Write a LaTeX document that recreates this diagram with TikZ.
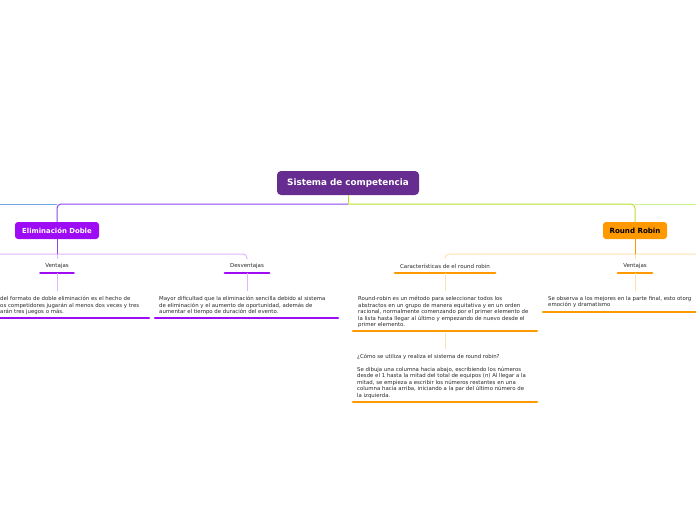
\documentclass[tikz,border=0pt]{standalone}
\usepackage{fontspec}
\setmainfont{DejaVu Sans}
\definecolor{rootc}{RGB}{102,44,144}
\definecolor{elimc}{RGB}{157,12,245}
\definecolor{purpl}{RGB}{140,70,240}
\definecolor{lpurp}{RGB}{226,180,251}
\definecolor{bluel}{RGB}{110,168,230}
\definecolor{greenl}{RGB}{184,224,44}
\definecolor{lgreen}{RGB}{200,245,140}
\definecolor{orng}{RGB}{255,153,0}
\definecolor{lorng}{RGB}{255,224,178}
\definecolor{txt}{RGB}{40,40,40}
\tikzset{
  rootbox/.style={fill=rootc, rounded corners=4pt, text=white, font=\fontsize{8.8}{10}\selectfont\bfseries, minimum width=142pt, minimum height=24pt, inner sep=0pt},
  elimbox/.style={fill=elimc, rounded corners=3pt, text=white, font=\fontsize{6.9}{8}\selectfont\bfseries, minimum width=84pt, minimum height=17pt, inner sep=0pt},
  rrbox/.style={fill=orng, rounded corners=3pt, text=black, font=\fontsize{7.1}{8}\selectfont\bfseries, minimum width=64pt, minimum height=17pt, inner sep=0pt},
  lbl/.style={text=txt, font=\fontsize{5.5}{6}\selectfont, minimum height=14pt, inner sep=0pt},
  txtblock/.style={text=txt, font=\fontsize{5.4}{6.5}\selectfont, align=left, inner sep=0pt, anchor=north west},
  pbar/.style={draw=elimc, line width=2.4pt, line cap=round},
  obar/.style={draw=orng, line width=2.4pt, line cap=round},
  conn/.style={line width=1pt},
}
\begin{document}
\begin{tikzpicture}[x=1pt,y=-1pt]
\useasboundingbox (0,0) rectangle (696,520);
\clip (0,0) rectangle (696,520);

% main nodes
\node[rootbox] (root) at (348,183) {Sistema de competencia};
\node[elimbox] (elim) at (57,230.5) {Eliminación Doble};
\node[rrbox] (rr) at (635,230.5) {Round Robin};

% top level connectors
\coordinate (j) at (348,204);
\coordinate (bl) at (0,204);
\coordinate (gr) at (696,204);
\draw[conn, lgreen] (rr.north |- j) -- (gr);
\draw[conn, bluel] (bl) -- (elim.north |- j);
\draw[conn, purpl, rounded corners=4pt] (j) -| (elim.north);
\draw[conn, greenl, rounded corners=4pt] (j) -| (rr.north);
\draw[conn, greenl] (root.south) -- (j);

% Eliminacion doble children
\node[lbl, minimum width=33pt] (v1) at (57,266) {Ventajas};
\node[lbl, minimum width=44pt] (d1) at (247,266) {Desventajas};
\draw[pbar] (v1.south west) -- (v1.south east);
\draw[pbar] (d1.south west) -- (d1.south east);
\coordinate (ej) at (57,254);
\coordinate (lpl) at (0,254);
\draw[conn, lpurp, rounded corners=4pt] (lpl) -| (d1.north);
\draw[conn, lpurp] (ej) -- (v1.north);
\draw[conn, purpl] (elim.south) -- (ej);

\node[txtblock] (t1) at (0,296) {del formato de doble eliminación es el hecho de\\os competidores jugarán al menos dos veces y tres\\arán tres juegos o más.};
\coordinate (t1l) at (-34,318);
\coordinate (t1r) at (149,318);
\coordinate (t1t) at (57,291);
\draw[pbar] (t1l) -- (t1r);
\draw[conn, lpurp] (v1.south) -- (t1t);

\node[txtblock] (t2) at (159,296) {Mayor dificultad que la eliminación sencilla debido al sistema\\de eliminación y el aumento de oportunidad, además de\\aumentar el tiempo de duración del evento.};
\coordinate (t2l) at (155,318);
\coordinate (t2r) at (338,318);
\coordinate (t2t) at (247,291);
\draw[pbar] (t2l) -- (t2r);
\draw[conn, lpurp] (d1.south) -- (t2t);

% Round Robin children
\node[lbl, minimum width=100pt] (c1) at (445,266) {Características de el round robin};
\node[lbl, minimum width=34pt] (v2) at (635,266) {Ventajas};
\draw[obar] (c1.south west) -- (c1.south east);
\draw[obar] (v2.south west) -- (v2.south east);
\coordinate (rj) at (635,254);
\coordinate (lor) at (696,254);
\draw[conn, lorng, rounded corners=4pt] (lor) -| (c1.north);
\draw[conn, lorng] (rj) -- (v2.north);
\draw[conn, orng] (rr.south) -- (rj);

\node[txtblock] (t3) at (358,296) {Round-robin es un método para seleccionar todos los\\abstractos en un grupo de manera equitativa y en un orden\\racional, normalmente comenzando por el primer elemento de\\la lista hasta llegar al último y empezando de nuevo desde el\\primer elemento.};
\coordinate (t3l) at (353,331);
\coordinate (t3r) at (537,331);
\coordinate (t3t) at (445,291);
\coordinate (t3b) at (445,333);
\draw[obar] (t3l) -- (t3r);
\draw[conn, lorng] (c1.south) -- (t3t);

\node[txtblock] (t4) at (357,353.5) {¿Cómo se utiliza y realiza el sistema de round robin?\\[6.5pt]Se dibuja una columna hacia abajo, escribiendo los números\\desde el 1 hasta la mitad del total de equipos (n) Al llegar a la\\mitad, se empieza a escribir los números restantes en una\\columna hacia arriba, iniciando a la par del último número de\\la izquierda.};
\coordinate (t4l) at (353,402);
\coordinate (t4r) at (537,402);
\coordinate (t4t) at (445,349);
\draw[obar] (t4l) -- (t4r);
\draw[conn, lorng] (t3b) -- (t4t);

\node[txtblock] (t5) at (548,296) {Se observa a los mejores en la parte final, esto otorg\\emoción y dramatismo};
\coordinate (t5l) at (543,312);
\coordinate (t5r) at (725,312);
\coordinate (t5t) at (635,291);
\draw[obar] (t5l) -- (t5r);
\draw[conn, lorng] (v2.south) -- (t5t);
\end{tikzpicture}
\end{document}
